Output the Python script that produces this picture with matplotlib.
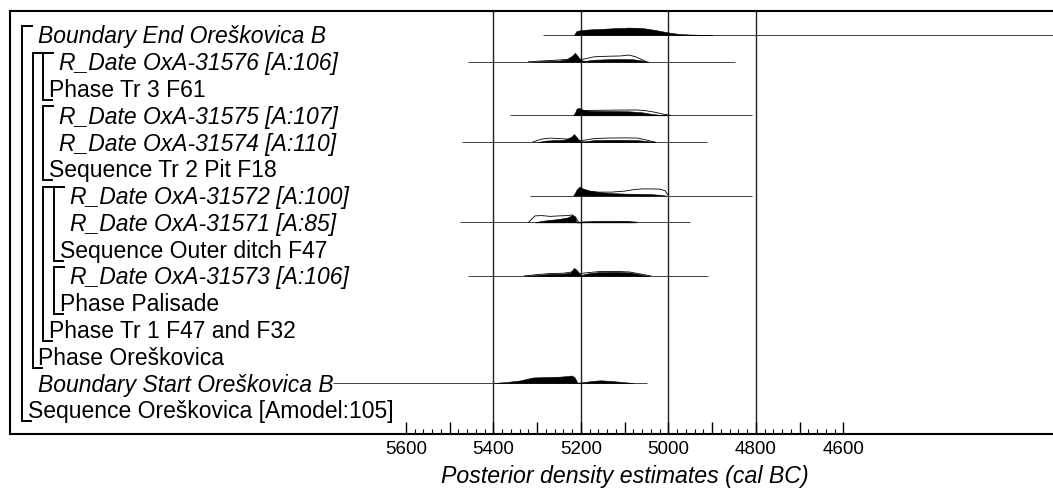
import matplotlib
matplotlib.use("Agg")
import matplotlib.pyplot as plt
from matplotlib.transforms import blended_transform_factory

plt.rcParams['font.family'] = ['Liberation Sans', 'DejaVu Sans']

# row labels, top to bottom
labels = [
    "Boundary End Oreškovica B",
    "R_Date OxA-31576 [A:106]",
    "Phase Tr 3 F61",
    "R_Date OxA-31575 [A:107]",
    "R_Date OxA-31574 [A:110]",
    "Sequence Tr 2 Pit F18",
    "R_Date OxA-31572 [A:100]",
    "R_Date OxA-31571 [A:85]",
    "Sequence Outer ditch F47",
    "R_Date OxA-31573 [A:106]",
    "Phase Palisade",
    "Phase Tr 1 F47 and F32",
    "Phase Oreškovica",
    "Boundary Start Oreškovica B",
    "Sequence Oreškovica [Amodel:105]",
]

# model structure: label row, first row, nesting level of each group
group_rows = [14, 12, 2, 5, 11, 8, 10]
group_first = [0, 1, 1, 3, 6, 6, 9]
group_level = [0, 1, 2, 2, 2, 3, 3]

# range line (cal BC) of each distribution row
range_rows = [0, 1, 3, 4, 6, 7, 9, 13]
range_from = [5287, 5458, 5362, 5471, 5316, 5476, 5458, 5766]
range_to = [4100, 4849, 4808, 4913, 4808, 4951, 4910, 5050]

# posterior (filled) and likelihood (outline) densities, heights read in px
end_b_yr = [5216, 5210, 5200, 5180, 5150, 5120, 5090, 5060, 5030, 5000, 4975, 4950, 4925, 4900]
end_b_post = [0, 4.0, 4.8, 5.6, 6.2, 6.9, 7.4, 7.0, 5.0, 2.5, 1.0, 0.5, 0.2, 0]

d31576_yr = [5310, 5280, 5250, 5230, 5220, 5214, 5208, 5200, 5190, 5170, 5140, 5110, 5080, 5060, 5045]
d31576_post = [0, 0.8, 1.2, 2.5, 6, 9, 6, 1.5, 1.0, 2.0, 2.5, 2.8, 2.5, 1.2, 0]
d31576_like_yr = [5320, 5290, 5260, 5230, 5215, 5205, 5190, 5170, 5140, 5110, 5090, 5075, 5060, 5050]
d31576_like = [0, 0.8, 1.5, 2.5, 6, 2, 3, 5, 5.5, 5.8, 6.7, 5, 2, 0]

d31575_yr = [5216, 5210, 5205, 5195, 5180, 5150, 5120, 5090, 5060, 5040, 5020, 5000]
d31575_post = [0, 6.5, 7.5, 5.5, 4.5, 4.3, 4.2, 4.0, 3.0, 1.5, 0.5, 0]
d31575_like_yr = [5216, 5205, 5190, 5160, 5120, 5090, 5070, 5050, 5030, 5010, 4995]
d31575_like = [0, 5, 4.8, 5.0, 5.2, 5.3, 5.3, 4.5, 3, 1, 0]

d31574_yr = [5300, 5280, 5260, 5240, 5225, 5216, 5210, 5202, 5190, 5170, 5140, 5100, 5070, 5050, 5030]
d31574_post = [0, 1.5, 2.0, 2.2, 4, 8, 5, 0.8, 0.8, 2, 2.2, 2.2, 2, 1, 0]
d31574_like_yr = [5310, 5290, 5270, 5250, 5230, 5218, 5205, 5190, 5170, 5140, 5100, 5070, 5050, 5030]
d31574_like = [0, 3, 4, 3.5, 3, 5, 1.5, 2, 3.5, 4, 4.2, 4, 2, 0]

d31572_yr = [5216, 5210, 5203, 5195, 5180, 5160, 5130, 5100, 5070, 5040, 5020, 5005]
d31572_post = [0, 6, 9, 7, 5, 3.5, 2.5, 2.0, 1.8, 1.5, 0.8, 0]
d31572_like_yr = [5216, 5205, 5190, 5160, 5130, 5100, 5080, 5060, 5040, 5020, 5008, 5000]
d31572_like = [0, 6, 4.5, 3.5, 3.5, 4.5, 6, 6.7, 6.7, 6.5, 5, 0]

d31571_yr = [5305, 5290, 5270, 5250, 5230, 5220, 5214, 5210, 5200, 5180, 5150, 5120, 5090, 5075]
d31571_post = [0, 1.5, 2.5, 3.5, 5, 7.3, 6, 0, 0, 0.6, 0.8, 0.8, 0.6, 0]
d31571_like_yr = [5320, 5305, 5290, 5270, 5250, 5230, 5220, 5212, 5205, 5190, 5160, 5120, 5090, 5070]
d31571_like = [0, 6.5, 6.8, 6, 6.5, 6.8, 7.5, 5, 0, 0.5, 1, 1, 0.8, 0]

d31573_yr = [5325, 5300, 5270, 5245, 5225, 5216, 5210, 5200, 5185, 5160, 5120, 5090, 5070, 5045]
d31573_post = [0, 1.0, 2.0, 2.2, 3, 8, 6, 0.8, 2.5, 3.8, 4, 3.5, 2, 0]
d31573_like_yr = [5330, 5300, 5270, 5240, 5220, 5212, 5205, 5190, 5160, 5120, 5090, 5065, 5040]
d31573_like = [0, 1.3, 2.4, 2.7, 4, 6, 2, 3, 4.3, 4.5, 4, 2, 0]

start_b_yr = [5400, 5370, 5340, 5310, 5280, 5250, 5230, 5222, 5215, 5208, 5195, 5175, 5155, 5130, 5100, 5080]
start_b_post = [0, 1.0, 2.5, 5.5, 6.0, 6.3, 7, 7.5, 6, 0.3, 0.8, 2, 2.7, 2, 0.8, 0]

posteriors = [
    (0, end_b_yr, end_b_post),
    (1, d31576_yr, d31576_post),
    (3, d31575_yr, d31575_post),
    (4, d31574_yr, d31574_post),
    (6, d31572_yr, d31572_post),
    (7, d31571_yr, d31571_post),
    (9, d31573_yr, d31573_post),
    (13, start_b_yr, start_b_post),
]
likelihoods = [
    (1, d31576_like_yr, d31576_like),
    (3, d31575_like_yr, d31575_like),
    (4, d31574_like_yr, d31574_like),
    (6, d31572_like_yr, d31572_like),
    (7, d31571_like_yr, d31571_like),
    (9, d31573_like_yr, d31573_like),
]

grid_years = [5400, 5200, 5000, 4800]
tick_years = list(range(5600, 4599, -100))
minor_years = [y for y in range(5600, 4599, -20) if y % 100]

# layout (pixels of the 1053x489 figure)
W, H = 1053, 489
AX_L, AX_R, AX_T, AX_B = 10, 1053, 12, 435
ROW_PX = 26.77
HS = 1.0 / ROW_PX  # px height -> row units


def xfrac(px):
    return (px - AX_L) / (AX_R - AX_L)


fig = plt.figure(figsize=(W / 100, H / 100), dpi=100)
ax = fig.add_axes([AX_L / W, (H - AX_B) / H, (AX_R - AX_L) / W, (AX_B - AX_T) / H])
ax.set_xlim(6505, 4121)
ax.set_ylim((AX_B - 36) / ROW_PX, (AX_T - 36) / ROW_PX)

for s in ['left', 'top', 'bottom']:
    ax.spines[s].set_linewidth(1.5)
ax.spines['right'].set_visible(False)

for g in grid_years:
    ax.axvline(g, color='#222222', lw=1.0, zorder=1)

for r, a, b in zip(range_rows, range_from, range_to):
    ax.hlines(r, a, b, color='#444444', lw=0.7, zorder=2)

for r, yr, h in posteriors:
    ax.fill_between(yr, r, [r - v * HS for v in h], color='black', lw=0.4, zorder=3)
for r, yr, h in likelihoods:
    ax.plot(yr, [r - v * HS for v in h], color='black', lw=0.6, zorder=3)

# brackets and labels
bt = blended_transform_factory(ax.transAxes, ax.transData)
BASE, STEP = 22, 10.5
for lab_row, first, lev in zip(group_rows, group_first, group_level):
    x0 = BASE + lev * STEP
    y0 = first - 9 / ROW_PX
    y1 = lab_row + 11.5 / ROW_PX
    ax.plot([xfrac(x0 + 10), xfrac(x0), xfrac(x0), xfrac(x0 + 9)], [y0, y0, y1, y1],
            color='black', lw=1.4, transform=bt, clip_on=False, solid_joinstyle='miter')

for i, lab in enumerate(labels):
    if i in group_rows:
        lev = group_level[group_rows.index(i)]
        tx = BASE + lev * STEP + 6
    else:
        lev = max(l for g, f, l in zip(group_rows, group_first, group_level) if f <= i <= g)
        tx = BASE + lev * STEP + 16
    it = lab.startswith('R_Date') or lab.startswith('Boundary')
    ax.text(xfrac(tx), i + 7.5 / ROW_PX, lab, transform=bt, va='baseline', ha='left',
            fontsize=16.5, style='italic' if it else 'normal')

ax.set_yticks([])
ax.set_xticks(tick_years)
ax.set_xticklabels([str(t) if t % 200 == 0 else '' for t in tick_years])
ax.set_xticks(minor_years, minor=True)
ax.tick_params(axis='x', which='major', direction='in', length=8.6, width=1.0, labelsize=13.5, pad=4)
ax.tick_params(axis='x', which='minor', direction='in', length=3.6, width=0.8)

ax.text(5100, -(477 - AX_B) / (AX_B - AX_T), 'Posterior density estimates (cal BC)',
        transform=ax.get_xaxis_transform(), ha='center', va='center', fontsize=16.7, style='italic')

fig.savefig('out.png', dpi=100)
